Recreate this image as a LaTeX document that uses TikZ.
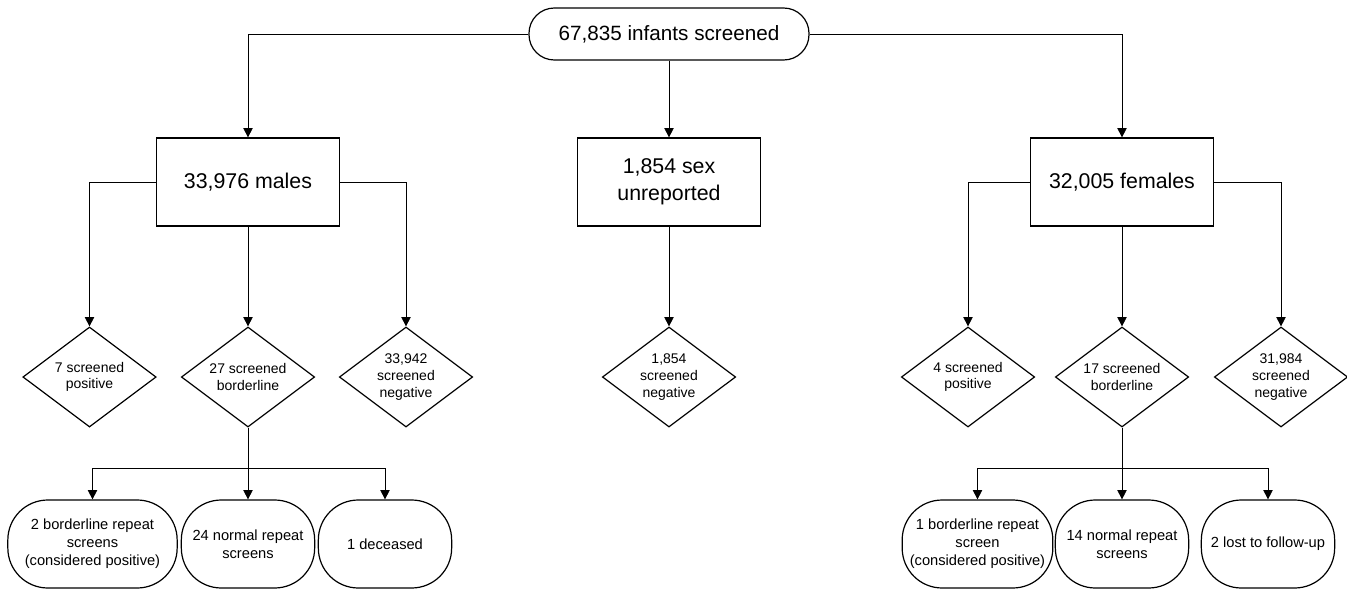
\documentclass[tikz,border=0pt]{standalone}
\usepackage{fontspec}
\setmainfont{Liberation Sans}
\usetikzlibrary{shapes.geometric,arrows.meta}

\tikzset{
    arr/.style = {draw, line width=0.6pt, -{Triangle[width=7pt,length=7pt]}},
    line/.style = {draw, line width=0.6pt},
    bigbox/.style = {draw, line width=0.9pt, rectangle, minimum width=137pt, minimum height=66pt,
        align=center, font=\fontsize{16}{20}\selectfont},
    decide/.style = {draw, line width=0.9pt, diamond, inner sep=0pt, shape aspect=1.33,
        minimum width=100pt, minimum height=75pt, align=center, font=\fontsize{10.5}{12.5}\selectfont},
    outcome/.style = {draw, line width=0.9pt, rectangle, rounded corners=30pt, minimum height=66pt,
        align=center, font=\fontsize{11}{13.5}\selectfont}
}

\begin{document}
\begin{tikzpicture}[x=0.75pt, y=-0.75pt]
        \useasboundingbox (0, 0) rectangle (1347, 589);
        % top of the tree
        \node[draw, line width=0.9pt, rounded corners=19pt, minimum width=210pt, minimum height=39pt,
            font=\fontsize{15.5}{18}\selectfont] (all) at (669, 34) {67,835 infants screened};
        % sex groups
        \node[bigbox] (male) at (248, 182) {33,976 males};
        \node[bigbox] (unrep) at (669, 182) {1,854 sex\\unreported};
        \node[bigbox] (female) at (1122, 182) {32,005 females};
        \draw[arr] (all.west) -| (male.north);
        \draw[arr] (all.south) -- (unrep.north);
        \draw[arr] (all.east) -| (female.north);
        % screening results
        \node[decide] (mpos) at (89.5, 377) {7 screened\\positive};
        \node[decide] (mbord) at (248, 377) {27 screened\\borderline};
        \node[decide] (mneg) at (406, 377) {33,942\\screened\\negative};
        \node[decide] (uneg) at (669, 377) {1,854\\screened\\negative};
        \node[decide] (fpos) at (968, 377) {4 screened\\positive};
        \node[decide] (fbord) at (1122, 377) {17 screened\\borderline};
        \node[decide] (fneg) at (1281, 377) {31,984\\screened\\negative};
        \draw[arr] (male.west) -| (mpos.north);
        \draw[arr] (male.south) -- (mbord.north);
        \draw[arr] (male.east) -| (mneg.north);
        \draw[arr] (unrep.south) -- (uneg.north);
        \draw[arr] (female.west) -| (fpos.north);
        \draw[arr] (female.south) -- (fbord.north);
        \draw[arr] (female.east) -| (fneg.north);
        % repeat screens
        \node[outcome, minimum width=127pt] (mrep1) at (92.5, 544) {2 borderline repeat\\screens\\(considered positive)};
        \node[outcome, minimum width=100pt] (mrep2) at (248, 544) {24 normal repeat\\screens};
        \node[outcome, minimum width=100pt] (mrep3) at (385, 544) {1 deceased};
        \node[outcome, minimum width=113pt] (frep1) at (977.5, 544) {1 borderline repeat\\screen\\(considered positive)};
        \node[outcome, minimum width=100pt] (frep2) at (1122, 544) {14 normal repeat\\screens};
        \node[outcome, minimum width=100pt] (frep3) at (1268, 544) {2 lost to follow-up};
        \coordinate (mjoin) at (248, 468);
        \coordinate (fjoin) at (1122, 468);
        \draw[line] (mbord.south) -- (mjoin);
        \draw[arr] (mjoin) -| (mrep1.north);
        \draw[arr] (mjoin) -- (mrep2.north);
        \draw[arr] (mjoin) -| (mrep3.north);
        \draw[line] (fbord.south) -- (fjoin);
        \draw[arr] (fjoin) -| (frep1.north);
        \draw[arr] (fjoin) -- (frep2.north);
        \draw[arr] (fjoin) -| (frep3.north);
    \end{tikzpicture}
\end{document}
